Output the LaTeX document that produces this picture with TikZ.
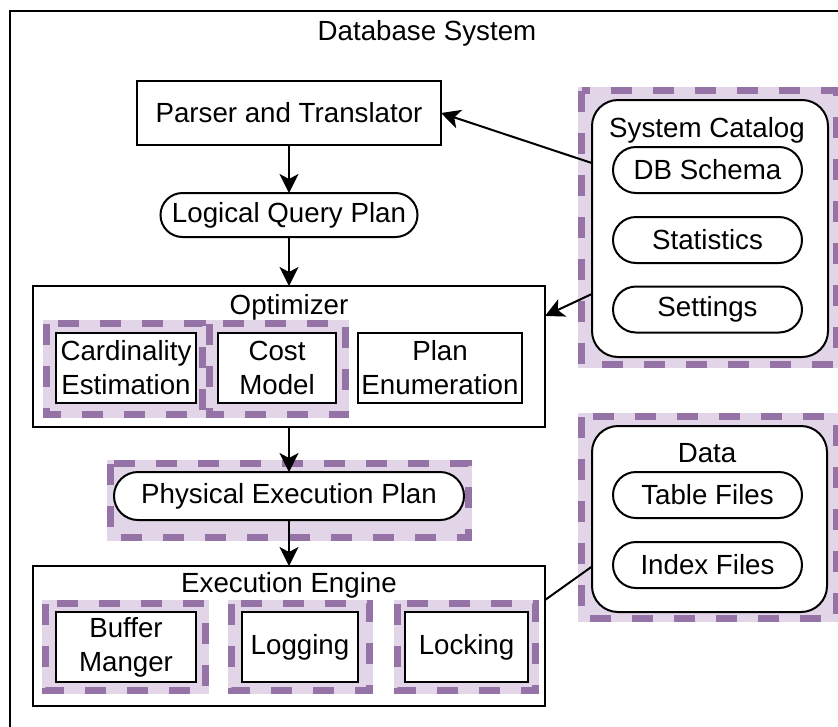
\documentclass[tikz,border=0pt]{standalone}
\usepackage{fontspec}
\setmainfont{Liberation Sans}
\usetikzlibrary{arrows.meta}
\definecolor{hlfill}{HTML}{E1D5E7}
\definecolor{hlline}{HTML}{9673A6}
\tikzset{
  box/.style={draw, line width=2pt, fill=white, inner sep=0pt, outer sep=0pt, align=center},
  pill/.style={box, rounded corners=#1},
  hl/.style={fill=hlfill, preaction={draw=hlfill, line width=7pt}, draw=hlline, line width=7pt, dash pattern=on 21pt off 21pt},
  arr/.style={line width=2pt, -{Stealth[length=19pt, width=19pt, inset=5pt]}}
}

\begin{document}
\begin{tikzpicture}[x=1pt, y=-1pt, font=\fontsize{27.7}{34}\selectfont]
	\useasboundingbox (0,0) rectangle (838,726);
	\clip (0,0) rectangle (838,726);
	\draw [line width=2pt] (10,11) rectangle (900,800);
	\node (title) at (427,33) {Database System};

	\node [box, minimum width=304pt, minimum height=64pt] (parser) at (289,113) {Parser and Translator};
	\node [pill=22pt, minimum width=257pt, minimum height=44pt] (lqp) at (289,215) {Logical Query Plan};

	\node [box, minimum width=512pt, minimum height=141pt] (opt) at (289,356.5) {};
	\node (optlbl) at (289,307) {Optimizer};
	\path [hl] (46.5,323.5) rectangle (202.5,414.5);
	\path [hl] (209.5,323.5) rectangle (345.5,414.5);
	\node [box, minimum width=140pt, minimum height=70pt] (card) at (126,368) {Cardinality\\Estimation};
	\node [box, minimum width=118pt, minimum height=70pt] (cost) at (277,368) {Cost\\Model};
	\node [box, minimum width=164pt, minimum height=70pt] (plan) at (440,368) {Plan\\Enumeration};

	\path [hl] (110.5,463.5) rectangle (468.5,537.5);
	\node [pill=24pt, minimum width=350pt, minimum height=48pt] (pep) at (289,496) {Physical Execution Plan};

	\node [box, minimum width=512pt, minimum height=140pt] (ee) at (289,636) {};
	\node (eelbl) at (289,585) {Execution Engine};
	\path [hl] (45.5,603.5) rectangle (205.5,690.5);
	\path [hl] (231.5,603.5) rectangle (369.5,690.5);
	\path [hl] (397.5,603.5) rectangle (535.5,690.5);
	\node [box, minimum width=140pt, minimum height=70pt] (buf) at (126,647) {Buffer\\Manger};
	\node [box, minimum width=116pt, minimum height=70pt] (log) at (300,647) {Logging};
	\node [box, minimum width=123pt, minimum height=70pt] (lock) at (466.5,647) {Locking};

	\path [hl] (581.5,90.5) rectangle (836.5,364.5);
	\node [pill=26pt, minimum width=236pt, minimum height=257pt] (cat) at (710,228.5) {};
	\node (catlbl) at (707,130) {System Catalog};
	\node [pill=23pt, minimum width=189pt, minimum height=46pt] (dbs) at (707.5,170) {DB Schema};
	\node [pill=23pt, minimum width=189pt, minimum height=46pt] (stat) at (707.5,240) {Statistics};
	\node [pill=23pt, minimum width=189pt, minimum height=46pt] (sett) at (707.5,309.5) {Settings};

	\path [hl] (581.5,416.5) rectangle (836.5,618.5);
	\node [pill=26pt, minimum width=235pt, minimum height=186pt] (data) at (709.5,519) {};
	\node (datalbl) at (707,453) {Data};
	\node [pill=23pt, minimum width=189pt, minimum height=46pt] (tab) at (707.5,495) {Table Files};
	\node [pill=23pt, minimum width=189pt, minimum height=46pt] (idx) at (707.5,565) {Index Files};

	\draw [arr] (parser.south) -- (lqp.north);
	\draw [arr] (lqp.south) -- (opt.north);
	\draw [arr] (opt.south) -- (pep.north);
	\draw [arr] (pep.south) -- (ee.north);
	\draw [arr] (cat.151) -- (parser.east);
	\draw [arr] (cat.209) -- (opt.9);
	\draw [line width=2pt] (ee.8) -- (data.202);
\end{tikzpicture}
\end{document}
